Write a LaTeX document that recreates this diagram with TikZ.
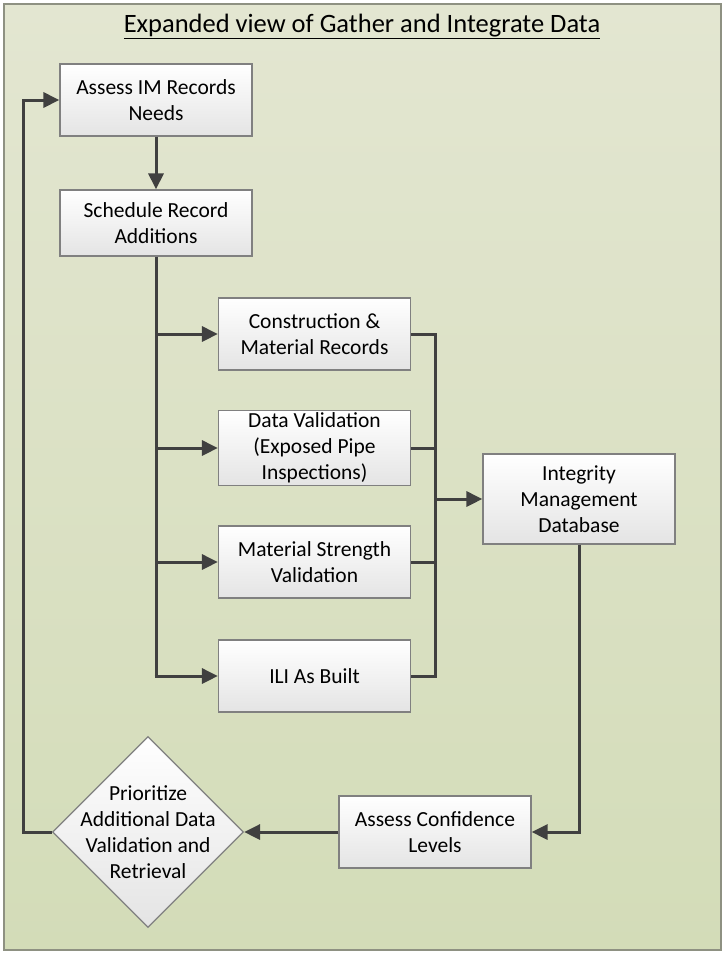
\documentclass[tikz,border=0pt]{standalone}
\usepackage{fontspec}
\setmainfont{Carlito}
\usetikzlibrary{arrows.meta,shapes.geometric}
\definecolor{frameC}{HTML}{8E9182}
\definecolor{bgTop}{HTML}{E3E6D1}
\definecolor{bgBot}{HTML}{D3DCB8}
\definecolor{lineC}{HTML}{404040}
\definecolor{boxBorder}{HTML}{808080}
\definecolor{boxBot}{HTML}{E4E4E4}
\begin{document}
\begin{tikzpicture}[x=1pt,y=-1pt,
  box/.style={rectangle,draw=boxBorder,line width=1.2pt,top color=white,bottom color=boxBot,
    minimum width=192pt,minimum height=72pt,align=center,inner sep=2pt,
    font=\fontsize{21.5}{26}\selectfont},
  dia/.style={diamond,draw=boxBorder,line width=1.2pt,top color=white,bottom color=boxBot,
    minimum width=191pt,minimum height=191pt,inner sep=0pt},
  lbl/.style={align=center,font=\fontsize{21.5}{26}\selectfont},
  conn/.style={draw=lineC,line width=3pt},
  arr/.style={conn,-{Triangle[length=16pt,width=15pt]}}]
\useasboundingbox (0,0) rectangle (723,953);
\fill[white] (0,0) rectangle (723,953);
\path[top color=bgTop,bottom color=bgBot,draw=frameC,line width=2pt] (4,4) rectangle (721,950);
\node[font=\fontsize{26.5}{30}\selectfont,anchor=base] (title) at (362,32) {\underline{Expanded view of Gather and Integrate Data}};

\node[box] (a1) at (156,100) {Assess IM Records\\Needs};
\node[box,minimum height=66pt] (a2) at (156,223) {Schedule Record\\Additions};
\node[box] (b1) at (314.5,334) {Construction \&\\Material Records};
\node[box] (b2) at (314.5,448) {Data Validation\\(Exposed Pipe\\Inspections)};
\node[box] (b3) at (314.5,562) {Material Strength\\Validation};
\node[box] (b4) at (314.5,676) {ILI As Built};
\node[box,minimum height=90pt] (db) at (579,499) {Integrity\\Management\\Database};
\node[box] (conf) at (435,832) {Assess Confidence\\Levels};
\node[dia] (pr) at (148,832) {};
\node[lbl] (prtext) at (pr.center) {Prioritize\\Additional Data\\Validation and\\Retrieval};

\coordinate (bus) at (435,499);
\coordinate (loop) at (23,832);

\draw[arr] (a1.south) -- (a2.north);
\draw[conn] (a2.south) -- (a2.south |- b4.west);
\draw[arr] (a2.south |- b1.west) -- (b1.west);
\draw[arr] (a2.south |- b2.west) -- (b2.west);
\draw[arr] (a2.south |- b3.west) -- (b3.west);
\draw[arr] ([xshift=-1.5pt]a2.south |- b4.west) -- (b4.west);

\draw[conn] (b1.east) -- (b1.east -| bus) -- (b4.east -| bus) -- (b4.east);
\draw[conn] (b2.east) -- (b2.east -| bus);
\draw[conn] (b3.east) -- (b3.east -| bus);
\draw[arr] (bus) -- (db.west);

\draw[arr] (db.south) -- (db.south |- conf.east) -- (conf.east);
\draw[arr] (conf.west) -- (pr.east);
\draw[arr] (pr.west) -- (loop) -- (loop |- a1.west) -- (a1.west);
\end{tikzpicture}
\end{document}
